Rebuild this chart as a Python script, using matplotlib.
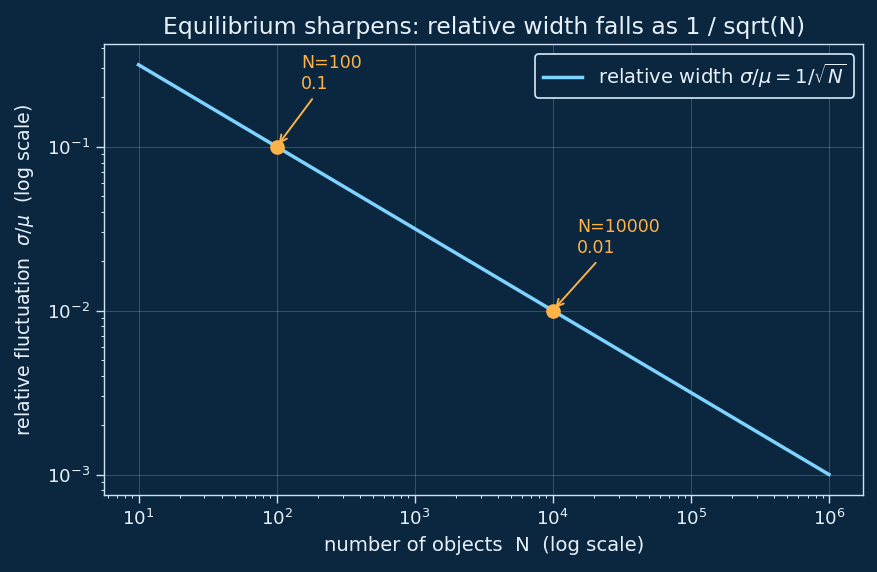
import matplotlib
matplotlib.use("Agg")
import matplotlib.pyplot as plt

# values
n_objects = [10, 100, 10000, 1000000]
rel_width = [0.316, 0.1, 0.01, 0.001]
marked_n = [100, 10000]
marked_w = [0.1, 0.01]
marked_text = ["N=100\n0.1", "N=10000\n0.01"]

bg = "#0b2740"
fg = "#e8f1fa"
spine_c = "#cfe2f3"
line_c = "#7fd3ff"
dot_c = "#ffb347"

fig = plt.figure(figsize=(8.77 / 1.25, 5.72 / 1.25), dpi=125, facecolor=bg)
ax = fig.add_axes([0.1186, 0.1346, 0.866, 0.788], facecolor=bg)

ax.plot(n_objects, rel_width, color=line_c, lw=2.0,
        label=r"relative width $\sigma/\mu = 1/\sqrt{N}$")
ax.scatter(marked_n, marked_w, color=dot_c, s=55, zorder=5)

for x, y, t in zip(marked_n, marked_w, marked_text):
    ax.annotate(t, xy=(x, y), xytext=(14, 31), textcoords="offset points",
                color=dot_c, fontsize=10, ha="left", va="bottom",
                arrowprops=dict(arrowstyle="->", color=dot_c, lw=1.1))

ax.set_xscale("log")
ax.set_yscale("log")
ax.grid(True, which="major", color="white", alpha=0.18, lw=0.6)

ax.set_title("Equilibrium sharpens: relative width falls as 1 / sqrt(N)",
             color=fg, fontsize=13.5)
ax.set_xlabel("number of objects  N  (log scale)", color=fg, fontsize=11.3)
ax.set_ylabel(r"relative fluctuation  $\sigma/\mu$  (log scale)", color=fg,
              fontsize=10.9, labelpad=6.5)

ax.tick_params(which="both", colors=spine_c, labelcolor=fg, labelsize=10.5)
ax.tick_params(which="major", length=4.5)
for s in ax.spines.values():
    s.set_color(spine_c)

leg = ax.legend(loc="upper right", fontsize=11.3, facecolor=bg,
                edgecolor=spine_c, framealpha=1)
for txt in leg.get_texts():
    txt.set_color(fg)

fig.savefig("out.png", facecolor=bg)
